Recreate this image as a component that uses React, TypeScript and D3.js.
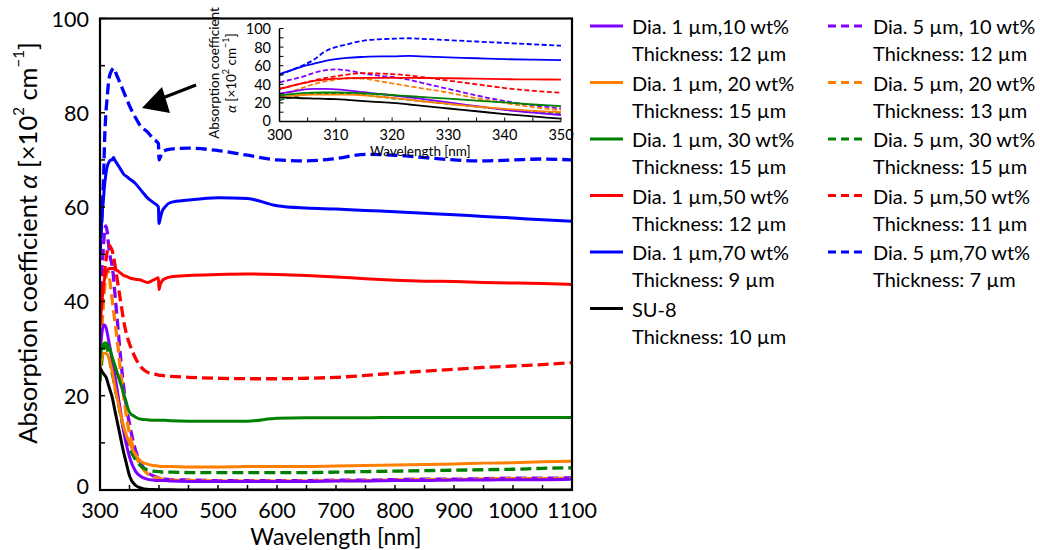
import React from "react";
import * as d3 from "d3";

// Wavelength grid [nm]
const wavelengths = [300, 302, 304, 306, 308, 310, 312, 315, 318, 320, 323, 325, 330, 335, 340, 345, 350, 360, 370, 380, 390, 399, 400, 402, 405, 410, 420, 450, 500, 550, 600, 650, 700, 750, 800, 850, 900, 950, 1000, 1050, 1100];

// Absorption coefficient [x10^2 cm^-1]
const d1_10 = [30, 32, 34, 35, 35, 34.5, 33.5, 31.5, 29.5, 28, 26, 24.5, 20.5, 16.5, 12.5, 9.5, 7, 4, 2.8, 2.3, 2.1, 2, 2, 2, 2, 2, 1.9, 1.8, 1.8, 1.8, 1.8, 1.8, 1.9, 1.9, 2, 2, 2.1, 2.1, 2.2, 2.2, 2.3];
const d1_20 = [26, 27.5, 28.5, 29, 29, 29, 28.8, 28, 26.5, 25.5, 23.5, 22, 19, 16, 13.5, 11.5, 10, 7.5, 6, 5.5, 5.2, 5.1, 5, 5, 5, 5, 5, 4.9, 4.9, 5, 5, 5, 5.1, 5.2, 5.3, 5.4, 5.5, 5.7, 5.8, 6, 6.1];
const d1_30 = [28, 29.5, 30.5, 31, 31.2, 31.2, 31, 30.3, 29.3, 28.5, 27.3, 26.5, 24.5, 22.5, 20.5, 18.3, 16.5, 15.5, 15, 14.9, 14.8, 14.8, 14.8, 14.8, 14.8, 14.8, 14.7, 14.6, 14.6, 14.6, 15.2, 15.3, 15.3, 15.3, 15.4, 15.4, 15.4, 15.4, 15.4, 15.4, 15.4];
const d1_50 = [35, 38, 41, 43.5, 45, 46, 46.5, 47, 47, 47, 47, 46.8, 46.5, 46, 45.5, 45.3, 45, 44.7, 44.5, 44, 44.5, 45, 42.5, 43.5, 44.3, 44.8, 45.2, 45.5, 45.7, 45.8, 45.7, 45.5, 45.2, 44.8, 44.5, 44.3, 44.2, 44, 43.9, 43.8, 43.6];
const d1_70 = [51, 55, 59, 62, 65, 67, 68.5, 69.5, 70, 70, 70.5, 70, 69, 68, 67, 66.5, 66, 65, 63.5, 62, 61, 60, 56.5, 57.5, 59, 60, 61, 61.5, 62, 61.8, 60.3, 59.8, 59.6, 59.3, 59, 58.7, 58.4, 58, 57.7, 57.3, 57];
const d5_10 = [42, 45, 48, 52, 55, 56, 55, 51.5, 49, 48, 45, 42, 35, 28, 22, 17.5, 14, 8.5, 5.5, 3.8, 3, 2.6, 2.5, 2.5, 2.4, 2.3, 2.2, 2.1, 2, 2, 2, 2, 2.1, 2.1, 2.2, 2.3, 2.3, 2.4, 2.5, 2.5, 2.6];
const d5_20 = [28, 32, 36, 40, 43, 45, 46.5, 46, 43, 41, 38, 36, 31, 25, 20, 15.5, 12, 7.5, 5, 3.5, 2.8, 2.5, 2.4, 2.4, 2.3, 2.2, 2.1, 2, 1.9, 1.9, 1.9, 1.9, 2, 2, 2.1, 2.2, 2.2, 2.3, 2.4, 2.4, 2.5];
const d5_30 = [23, 26, 28.5, 30, 30.5, 30.5, 30, 28.5, 26.5, 25, 23.5, 22, 19, 16, 13, 11, 9, 6.5, 5, 4.3, 4, 3.9, 3.9, 3.9, 3.8, 3.8, 3.8, 3.7, 3.7, 3.7, 3.7, 3.7, 3.8, 3.9, 4, 4.1, 4.2, 4.3, 4.4, 4.6, 4.7];
const d5_50 = [35, 38, 41, 44, 46.5, 48.5, 50.5, 52, 51.5, 51, 49.5, 48, 44, 40, 36, 33, 31, 28, 26, 25, 24.6, 24.4, 24.3, 24.3, 24.3, 24.2, 24.1, 23.9, 23.7, 23.6, 23.6, 23.7, 23.9, 24.3, 24.8, 25.2, 25.6, 26, 26.3, 26.6, 27];
const d5_70 = [50, 55, 60, 66, 75, 80, 83, 87, 88.5, 89, 89.5, 89, 87.5, 86, 84.5, 83, 81.5, 79, 77, 76, 74.5, 73.5, 70, 70.5, 71.5, 72, 72.3, 72.5, 72, 71, 70, 69.8, 70.3, 71.2, 71, 70.5, 70, 69.8, 70, 70.2, 70];
const su8 = [26, 25.5, 25, 24.7, 24.3, 24, 23.3, 22, 20.8, 20, 18.3, 17, 14, 11, 8, 5.5, 3, 1, 0.4, 0.15, 0.08, 0.05, 0.05, 0.04, 0.04, 0.03, 0.03, 0.02, 0.02, 0.02, 0.02, 0.02, 0.02, 0.02, 0.02, 0.02, 0.02, 0.02, 0.02, 0.02, 0.02];

const xTicks = [300, 400, 500, 600, 700, 800, 900, 1000, 1100];
const yTicks = [0, 20, 40, 60, 80, 100];
const insetXTicks = [300, 310, 320, 330, 340, 350];
const insetYTicks = [0, 20, 40, 60, 80, 100];

const leftLabels = [
  ["Dia. 1 µm,10 wt%", "Thickness: 12 µm"],
  ["Dia. 1 µm, 20 wt%", "Thickness: 15 µm"],
  ["Dia. 1 µm, 30 wt%", "Thickness: 15 µm"],
  ["Dia. 1 µm,50 wt%", "Thickness: 12 µm"],
  ["Dia. 1 µm,70 wt%", "Thickness: 9 µm"],
  ["SU-8", "Thickness: 10 µm"],
];
const rightLabels = [
  ["Dia. 5 µm, 10 wt%", "Thickness: 12 µm"],
  ["Dia. 5 µm, 20 wt%", "Thickness: 13 µm"],
  ["Dia. 5 µm, 30 wt%", "Thickness: 15 µm"],
  ["Dia. 5 µm,50 wt%", "Thickness: 11 µm"],
  ["Dia. 5 µm,70 wt%", "Thickness: 7 µm"],
];

const PURPLE = "#7f00ff";
const ORANGE = "#ff7f00";
const GREEN = "#008000";
const RED = "#ff0000";
const BLUE = "#0000ff";
const BLACK = "#000000";

const solidSeries = [
  { values: d1_10, color: PURPLE },
  { values: d1_20, color: ORANGE },
  { values: d1_30, color: GREEN },
  { values: d1_50, color: RED },
  { values: d1_70, color: BLUE },
  { values: su8, color: BLACK },
];
const dashedSeries = [
  { values: d5_10, color: PURPLE },
  { values: d5_20, color: ORANGE },
  { values: d5_30, color: GREEN },
  { values: d5_50, color: RED },
  { values: d5_70, color: BLUE },
];

const FONT = "Lato, 'Open Sans', sans-serif";

export default function App() {
  const W = 1040, H = 550;
  const m = { left: 100, right: 572, top: 18.5, bottom: 490 };
  const x = d3.scaleLinear().domain([300, 1100]).range([m.left, m.right]);
  const y = d3.scaleLinear().domain([0, 100]).range([m.bottom, m.top]);

  const ix = d3.scaleLinear().domain([300, 350]).range([279.5, 561]);
  const iy = d3.scaleLinear().domain([0, 100]).range([121.5, 28.5]);

  const line = d3.line<[number, number]>()
    .x((d) => x(d[0]))
    .y((d) => y(d[1]))
    .curve(d3.curveMonotoneX);
  const iline = d3.line<[number, number]>()
    .x((d) => ix(d[0]))
    .y((d) => iy(d[1]))
    .curve(d3.curveMonotoneX);

  const pts = (vals: number[]) => wavelengths.map((w, i) => [w, vals[i]] as [number, number]);
  const ipts = (vals: number[]) =>
    wavelengths.map((w, i) => [w, vals[i]] as [number, number]).filter((d) => d[0] <= 350);

  const xMinor = d3.range(300, 1101, 50);
  const yMinor = d3.range(0, 101, 10);
  const ixMinor = d3.range(300, 351, 5);
  const iyMinor = d3.range(0, 101, 10);

  const legRowY = (i: number) => 26 + i * 56.5;

  return (
    <svg width={W} height={H} style={{ position: "absolute", left: 0, top: 0, background: "#fff" }} fontFamily={FONT}>
      <defs>
        <clipPath id="plotclip">
          <rect x={m.left} y={m.top} width={m.right - m.left} height={m.bottom - m.top} />
        </clipPath>
      </defs>

      {/* main series */}
      <g clipPath="url(#plotclip)" fill="none" strokeLinejoin="round">
        {dashedSeries.map((s, i) => (
          <path key={"d" + i} d={line(pts(s.values)) || ""} stroke={s.color} strokeWidth={3.3} strokeDasharray="11,5" />
        ))}
        {solidSeries.map((s, i) => (
          <path key={"s" + i} d={line(pts(s.values)) || ""} stroke={s.color} strokeWidth={3} />
        ))}
      </g>

      {/* frame */}
      <rect x={m.left} y={m.top} width={m.right - m.left} height={m.bottom - m.top} fill="none" stroke="#000" strokeWidth={2.2} />
      {xMinor.map((t) => (
        <line key={"xt" + t} x1={x(t)} x2={x(t)} y1={m.bottom} y2={m.bottom - 5} stroke="#000" strokeWidth={1.5} />
      ))}
      {yMinor.map((t) => (
        <line key={"yt" + t} x1={m.left} x2={m.left + 5} y1={y(t)} y2={y(t)} stroke="#000" strokeWidth={1.5} />
      ))}
      {xTicks.map((t) => (
        <text key={"xl" + t} x={x(t)} y={510} textAnchor="middle" dominantBaseline="central" fontSize={21.5} fill="#000">{t}</text>
      ))}
      {yTicks.map((t) => (
        <text key={"yl" + t} x={89} y={t === 0 ? y(t) - 4 : y(t)} textAnchor="end" dominantBaseline="central" fontSize={21.5} fill="#000">{t}</text>
      ))}
      <text x={(m.left + m.right) / 2} y={536} textAnchor="middle" dominantBaseline="central" fontSize={23} fill="#000">Wavelength [nm]</text>
      <text transform={`translate(27,243) rotate(-90)`} textAnchor="middle" dominantBaseline="central" fontSize={25.5} fill="#000">
        Absorption coefficient <tspan fontStyle="italic">α</tspan> [×10<tspan baselineShift="super" fontSize={15}>2</tspan> cm<tspan baselineShift="super" fontSize={15}>−1</tspan>]
      </text>

      {/* arrow */}
      <line x1={196} x2={160} y1={85} y2={99} stroke="#000" strokeWidth={3} />
      <polygon points="142,108 162,87 170,113" fill="#000" />

      {/* inset */}
      <g fill="none" strokeLinejoin="round">
        {dashedSeries.map((s, i) => (
          <path key={"id" + i} d={iline(ipts(s.values)) || ""} stroke={s.color} strokeWidth={1.8} strokeDasharray="5,2.5" />
        ))}
        {solidSeries.map((s, i) => (
          <path key={"is" + i} d={iline(ipts(s.values)) || ""} stroke={s.color} strokeWidth={1.8} />
        ))}
      </g>
      <line x1={ix(300)} x2={ix(350)} y1={iy(0)} y2={iy(0)} stroke="#000" strokeWidth={1.5} />
      <line x1={ix(300)} x2={ix(300)} y1={iy(0)} y2={iy(100)} stroke="#000" strokeWidth={1.5} />
      {ixMinor.map((t) => (
        <line key={"ixt" + t} x1={ix(t)} x2={ix(t)} y1={iy(0)} y2={iy(0) - 4} stroke="#000" strokeWidth={1} />
      ))}
      {iyMinor.map((t) => (
        <line key={"iyt" + t} x1={ix(300)} x2={ix(300) + 4} y1={iy(t)} y2={iy(t)} stroke="#000" strokeWidth={1} />
      ))}
      {insetXTicks.map((t) => (
        <text key={"ixl" + t} x={ix(t)} y={134} textAnchor="middle" dominantBaseline="central" fontSize={14.5} fill="#000">{t}</text>
      ))}
      {insetYTicks.map((t) => (
        <text key={"iyl" + t} x={271} y={t === 0 ? iy(t) - 1 : iy(t)} textAnchor="end" dominantBaseline="central" fontSize={14.5} fill="#000">{t}</text>
      ))}
      <text x={(ix(300) + ix(350)) / 2} y={151} textAnchor="middle" dominantBaseline="central" fontSize={13.5} fill="#000">Wavelength [nm]</text>
      <text transform={`translate(214,73) rotate(-90)`} textAnchor="middle" dominantBaseline="central" fontSize={13.5} fill="#000">Absorption coefficient</text>
      <text transform={`translate(231,73) rotate(-90)`} textAnchor="middle" dominantBaseline="central" fontSize={13.5} fill="#000">
        <tspan fontStyle="italic">α</tspan> [×10<tspan baselineShift="super" fontSize={9}>2</tspan> cm<tspan baselineShift="super" fontSize={9}>−1</tspan>]
      </text>

      {/* legend */}
      {leftLabels.map((lab, i) => (
        <g key={"ll" + i}>
          <line x1={590} x2={623} y1={legRowY(i)} y2={legRowY(i)} stroke={solidSeries[i].color} strokeWidth={3} />
          <text x={632} y={legRowY(i)} dominantBaseline="central" fontSize={20} fill="#000">{lab[0]}</text>
          <text x={632} y={legRowY(i) + 27} dominantBaseline="central" fontSize={20} fill="#000">{lab[1]}</text>
        </g>
      ))}
      {rightLabels.map((lab, i) => (
        <g key={"rl" + i}>
          <line x1={828} x2={863} y1={legRowY(i)} y2={legRowY(i)} stroke={dashedSeries[i].color} strokeWidth={3} strokeDasharray="8,5" />
          <text x={873} y={legRowY(i)} dominantBaseline="central" fontSize={20} fill="#000">{lab[0]}</text>
          <text x={873} y={legRowY(i) + 27} dominantBaseline="central" fontSize={20} fill="#000">{lab[1]}</text>
        </g>
      ))}
    </svg>
  );
}
